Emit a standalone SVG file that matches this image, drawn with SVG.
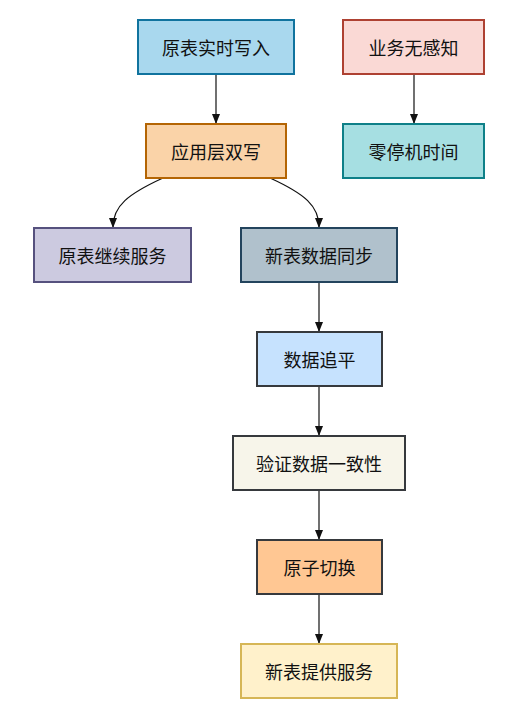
<svg xmlns="http://www.w3.org/2000/svg" width="511" height="724" viewBox="0 0 511 724">
<style>
.n rect{stroke-width:2}
.n text{font-family:"Noto Sans CJK SC","Noto Sans",sans-serif;font-size:18px;fill:#111;text-anchor:middle;dominant-baseline:central}
.e path{fill:none;stroke:#111;stroke-width:1.2}
</style>
<defs>
<marker id="ah" markerWidth="10" markerHeight="10" refX="9" refY="5" orient="auto" markerUnits="userSpaceOnUse">
<path d="M0,1 L10,5 L0,9 Z" fill="#111"/>
</marker>
</defs>
<rect width="511" height="724" fill="#fff"/>
<g class="e">
<path d="M216,74 V123" marker-end="url(#ah)"/>
<path d="M414,74 V123" marker-end="url(#ah)"/>
<path d="M163,178 C128,194 113,206 113,227" marker-end="url(#ah)"/>
<path d="M270,178 C305,194 319,206 319,227" marker-end="url(#ah)"/>
<path d="M319,282 V331" marker-end="url(#ah)"/>
<path d="M319,386 V435" marker-end="url(#ah)"/>
<path d="M319,490 V539" marker-end="url(#ah)"/>
<path d="M319,594 V643" marker-end="url(#ah)"/>
</g>
<g id="n1" class="n"><rect x="138" y="20" width="156" height="54" fill="#a9d8ee" stroke="#10739e"/><text x="216" y="47">原表实时写入</text></g>
<g id="n2" class="n"><rect x="343" y="20" width="141" height="54" fill="#fad9d5" stroke="#ae4132"/><text x="413.5" y="47">业务无感知</text></g>
<g id="n3" class="n"><rect x="146" y="124" width="140" height="54" fill="#fad3a8" stroke="#b46504"/><text x="216" y="151">应用层双写</text></g>
<g id="n4" class="n"><rect x="343" y="124" width="141" height="54" fill="#a6dfe2" stroke="#0e8088"/><text x="413.5" y="151">零停机时间</text></g>
<g id="n5" class="n"><rect x="34" y="228" width="157" height="54" fill="#cccae0" stroke="#56517e"/><text x="112.5" y="255">原表继续服务</text></g>
<g id="n6" class="n"><rect x="241" y="228" width="156" height="54" fill="#b0c1cc" stroke="#23445d"/><text x="319" y="255">新表数据同步</text></g>
<g id="n7" class="n"><rect x="257" y="332" width="125" height="54" fill="#c6e2fe" stroke="#36393d"/><text x="319.5" y="359">数据追平</text></g>
<g id="n8" class="n"><rect x="233" y="436" width="172" height="54" fill="#f7f5ea" stroke="#36393d"/><text x="319" y="463">验证数据一致性</text></g>
<g id="n9" class="n"><rect x="257" y="540" width="125" height="54" fill="#ffc793" stroke="#36393d"/><text x="319.5" y="567">原子切换</text></g>
<g id="n10" class="n"><rect x="241" y="644" width="156" height="54" fill="#fff1cb" stroke="#d6b656"/><text x="319" y="671">新表提供服务</text></g>
</svg>
